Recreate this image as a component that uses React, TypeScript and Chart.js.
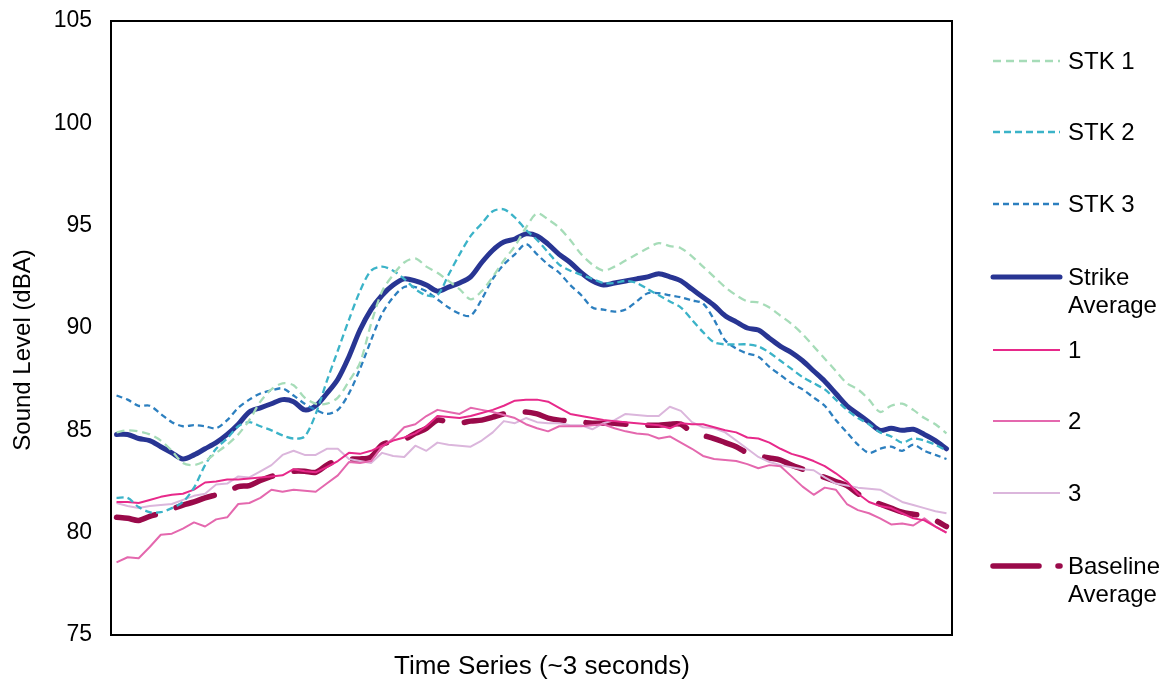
import React, { useEffect, useRef } from "react";
import { Chart, registerables } from "chart.js";

Chart.register(...registerables);

// ---- data ----
const timeSteps: string[] = Array.from({ length: 76 }, (_, i) => String(i + 1));

const stk1: number[] = [
  84.9, 85.0, 84.95, 84.8, 84.5, 84.0, 83.4, 83.3, 83.5, 83.9,
  84.3, 84.8, 85.5, 86.4, 87.0, 87.3, 87.2, 86.6, 86.3, 86.3,
  86.6, 87.4, 88.3, 90.2, 91.8, 92.6, 93.2, 93.4, 93.0, 92.7,
  92.3, 91.9, 91.4, 91.8, 92.5, 93.3, 94.0, 94.9, 95.6, 95.3,
  94.9, 94.3, 93.6, 93.1, 92.8, 93.0, 93.3, 93.6, 93.9, 94.15,
  94.0, 93.9, 93.5, 93.0, 92.5, 92.0, 91.6, 91.3, 91.25, 91.0,
  90.6, 90.2, 89.7, 89.1, 88.5, 87.9, 87.3, 87.0, 86.5, 85.9,
  86.2, 86.3, 86.0, 85.6, 85.3, 84.85,
];

const stk2: number[] = [
  81.7, 81.7, 81.25, 81.0, 81.0, 81.2, 81.5, 82.2, 83.3, 84.1,
  84.6, 85.2, 85.4, 85.2, 85.0, 84.75, 84.6, 84.7, 85.8, 87.4,
  88.9, 90.4, 91.8, 92.8, 93.0, 92.8, 92.4, 91.9, 91.6, 91.6,
  92.6, 93.6, 94.5, 95.1, 95.7, 95.8, 95.4, 94.8, 94.3, 93.7,
  93.1, 92.8, 92.6, 92.4, 92.2, 92.2, 92.3, 92.2, 91.9, 91.6,
  91.3, 91.0, 90.4, 89.8, 89.3, 89.2, 89.2, 89.2, 89.1, 88.8,
  88.4, 88.0, 87.6, 87.3, 87.0, 86.5, 86.0, 85.6, 85.3, 84.9,
  84.7, 84.4, 84.6, 84.5, 84.3, 84.0,
];

const stk3: number[] = [
  86.7, 86.5, 86.2, 86.2, 85.8, 85.4, 85.2, 85.25, 85.2, 85.1,
  85.5, 86.1, 86.5, 86.8, 86.95, 87.05, 86.7, 86.3, 86.0, 85.8,
  86.0, 86.8, 88.0, 89.4, 90.7, 91.5, 92.0, 92.0, 91.8, 91.4,
  91.0, 90.7, 90.6, 91.4, 92.4, 93.1, 93.6, 94.1, 93.6, 93.1,
  92.7, 92.1, 91.6, 91.0, 90.9, 90.8, 90.9, 91.3, 91.7, 91.7,
  91.6, 91.5, 91.35, 91.2, 90.4, 89.4, 89.0, 88.75, 88.6, 88.1,
  87.7, 87.3, 87.0, 86.6, 86.2, 85.5, 84.9, 84.3, 83.9, 84.1,
  84.2, 84.0, 84.3, 84.0, 83.8, 83.6,
];

const strikeAverage: number[] = [
  84.8, 84.8, 84.6, 84.5, 84.2, 83.9, 83.6, 83.8, 84.1, 84.4,
  84.8, 85.3, 85.9, 86.1, 86.3, 86.5, 86.4, 86.0, 86.2, 86.8,
  87.5, 88.6, 89.9, 90.9, 91.6, 92.1, 92.4, 92.3, 92.1, 91.8,
  92.0, 92.2, 92.5, 93.2, 93.8, 94.2, 94.35, 94.6, 94.5, 94.1,
  93.6, 93.2, 92.7, 92.3, 92.1, 92.2, 92.3, 92.4, 92.5, 92.65,
  92.5, 92.3, 91.9, 91.5, 91.1, 90.6, 90.3, 90.0, 89.9, 89.5,
  89.1, 88.8, 88.4, 87.9, 87.4, 86.8, 86.2, 85.8, 85.4, 85.0,
  85.1, 85.0, 85.05, 84.8, 84.5, 84.1,
];

const base1: number[] = [
  81.5, 81.5, 81.45, 81.6, 81.75, 81.85, 81.9, 82.1, 82.45, 82.5,
  82.6, 82.6, 82.65, 82.7, 82.75, 82.8, 83.1, 83.0, 82.95, 83.2,
  83.5, 83.9, 83.85, 84.0, 84.25, 84.5, 84.65, 84.85, 85.2, 85.7,
  85.65, 85.6, 85.7, 85.85, 86.0, 86.2, 86.45, 86.5, 86.5, 86.4,
  86.1, 85.8, 85.7, 85.6, 85.5, 85.45, 85.4, 85.35, 85.3, 85.25,
  85.1, 85.35, 85.3, 85.3, 85.15, 85.0, 84.9, 84.65, 84.6, 84.4,
  84.1, 83.85, 83.7, 83.5, 83.25, 82.9, 82.5, 81.9, 81.5, 81.3,
  81.2, 80.95, 80.7, 80.6, 80.3, 80.0,
];

const base2: number[] = [
  78.55, 78.8, 78.75, 79.3, 79.9, 79.95, 80.2, 80.5, 80.3, 80.65,
  80.75, 81.4, 81.45, 81.7, 82.1, 82.0, 82.1, 82.05, 82.0, 82.4,
  82.8, 83.45, 83.4, 83.5, 84.2, 84.6, 85.15, 85.3, 85.7, 86.0,
  85.9, 85.8, 86.1, 86.0, 85.9, 85.75, 85.6, 85.3, 85.1, 84.95,
  85.2, 85.2, 85.2, 85.25, 85.3, 85.1, 84.95, 84.85, 84.8, 84.6,
  84.7, 84.4, 84.1, 83.75, 83.6, 83.55, 83.5, 83.35, 83.15, 83.3,
  83.25, 82.75, 82.25, 81.85, 82.2, 82.1, 81.4, 81.1, 80.95, 80.7,
  80.4, 80.45, 80.35, 80.7, 80.3, 80.0,
];

const base3: number[] = [
  81.45, 81.3, 81.2, 81.3, 81.35, 81.4, 81.6, 81.8, 81.9, 82.35,
  82.4, 82.75, 82.7, 83.0, 83.3, 83.8, 84.0, 83.8, 83.8, 84.1,
  84.1, 83.6, 83.5, 83.4, 83.9, 83.75, 83.7, 84.25, 84.0, 84.4,
  84.3, 84.25, 84.2, 84.5, 84.9, 85.45, 85.35, 85.6, 85.4, 85.35,
  85.35, 85.25, 85.25, 85.05, 85.35, 85.5, 85.8, 85.75, 85.7, 85.7,
  86.15, 85.95, 85.4, 85.15, 85.1, 84.9, 84.5, 84.1, 83.7, 83.45,
  83.3, 83.2, 83.1, 83.05, 82.7, 82.4, 82.3, 82.2, 82.15, 82.1,
  81.8, 81.5, 81.35, 81.2, 81.05, 80.95,
];

const baselineAverage: number[] = [
  80.75, 80.7, 80.6, 80.8, 80.95, 81.15, 81.35, 81.5, 81.7, 81.85,
  82.0, 82.25, 82.3, 82.55, 82.75, 82.9, 83.0, 83.0, 82.95, 83.3,
  83.55, 83.6, 83.6, 83.7, 84.3, 84.45, 84.55, 84.85, 85.1, 85.5,
  85.4, 85.35, 85.45, 85.5, 85.65, 85.8, 85.85, 85.9, 85.8, 85.6,
  85.5, 85.45, 85.4, 85.35, 85.35, 85.35, 85.3, 85.3, 85.25, 85.25,
  85.3, 85.3, 84.9, 84.75, 84.6, 84.4, 84.2, 83.9, 83.75, 83.65,
  83.55, 83.3, 83.1, 82.9, 82.7, 82.5, 82.3, 81.9, 81.6, 81.4,
  81.2, 81.0, 80.9, 80.8, 80.6, 80.3,
];

const yMin = 75;
const yMax = 105;
const yStep = 5;

const xTitle = "Time Series (~3 seconds)";
const yTitle = "Sound Level (dBA)";

const FONT = "Arial, 'Liberation Sans', sans-serif";

type SeriesStyle = {
  label: string[];
  data: number[];
  color: string;
  width: number;
  dash: number[];
  tension: number;
  cap: CanvasLineCap;
};

const series: SeriesStyle[] = [
  { label: ["STK 1"], data: stk1, color: "#a6dcb8", width: 2.3, dash: [8, 5], tension: 0.3, cap: "butt" },
  { label: ["STK 2"], data: stk2, color: "#3bb3c8", width: 2.3, dash: [7, 4], tension: 0.3, cap: "butt" },
  { label: ["STK 3"], data: stk3, color: "#2c7fbf", width: 2.3, dash: [6, 4], tension: 0.3, cap: "butt" },
  { label: ["Strike", "Average"], data: strikeAverage, color: "#283593", width: 5, dash: [], tension: 0.3, cap: "round" },
  { label: ["1"], data: base1, color: "#e7298a", width: 2, dash: [], tension: 0, cap: "butt" },
  { label: ["2"], data: base2, color: "#e468ae", width: 2, dash: [], tension: 0, cap: "butt" },
  { label: ["3"], data: base3, color: "#dbb6dc", width: 2, dash: [], tension: 0, cap: "butt" },
  { label: ["Baseline", "Average"], data: baselineAverage, color: "#9a0a4a", width: 5.5, dash: [40, 22], tension: 0.3, cap: "round" },
];

const legendY = [61, 132, 204, 277, 350, 421, 493, 566];

const frameLegendTitles = {
  id: "frameLegendTitles",
  afterDraw(chart: any) {
    const ctx = chart.ctx as CanvasRenderingContext2D;
    const a = chart.chartArea;
    ctx.save();
    ctx.strokeStyle = "#000";
    ctx.lineWidth = 2;
    ctx.setLineDash([]);
    ctx.strokeRect(a.left, a.top, a.right - a.left, a.bottom - a.top);

    // axis titles
    ctx.fillStyle = "#000";
    ctx.textAlign = "center";
    ctx.textBaseline = "middle";
    ctx.font = `26px ${FONT}`;
    ctx.fillText(xTitle, 542, 667);
    ctx.save();
    ctx.translate(23, 350);
    ctx.rotate(-Math.PI / 2);
    ctx.font = `24px ${FONT}`;
    ctx.fillText(yTitle, 0, 0);
    ctx.restore();

    // legend
    ctx.font = `24px ${FONT}`;
    ctx.textBaseline = "middle";
    ctx.textAlign = "left";
    series.forEach((s, i) => {
      const y = legendY[i];
      ctx.beginPath();
      ctx.strokeStyle = s.color;
      ctx.lineWidth = s.width;
      ctx.lineCap = s.cap;
      if (s.label[0] === "Baseline") {
        ctx.setLineDash([46, 19]);
      } else {
        ctx.setLineDash(s.dash);
      }
      ctx.moveTo(993, y);
      ctx.lineTo(1060, y);
      ctx.stroke();
      s.label.forEach((t, k) => {
        ctx.fillText(t, 1068, y + 1 + k * 28);
      });
    });
    ctx.restore();
  },
};

export default function App() {
  const ref = useRef<HTMLCanvasElement | null>(null);

  useEffect(() => {
    if (!ref.current) return;
    const chart = new Chart(ref.current, {
      type: "line",
      data: {
        labels: timeSteps,
        datasets: series.map((s) => ({
          label: s.label.join(" "),
          data: s.data,
          borderColor: s.color,
          backgroundColor: s.color,
          borderWidth: s.width,
          borderDash: s.dash,
          borderCapStyle: s.cap,
          borderJoinStyle: "round" as const,
          tension: s.tension,
          pointRadius: 0,
          fill: false,
        })),
      },
      options: {
        animation: false,
        responsive: false,
        maintainAspectRatio: false,
        layout: { padding: { top: 0, right: 214, left: 0, bottom: 0 } },
        plugins: { legend: { display: false }, tooltip: { enabled: false } },
        scales: {
          x: {
            type: "category",
            offset: true,
            grid: { display: false, drawTicks: false },
            border: { display: false },
            ticks: { display: false },
            afterFit(scale: any) {
              scale.height = 47;
              scale.paddingLeft = 0;
              scale.paddingRight = 0;
            },
          },
          y: {
            min: yMin,
            max: yMax,
            grid: { display: false, drawTicks: false },
            border: { display: false },
            ticks: {
              stepSize: yStep,
              color: "#000",
              padding: 19,
              font: { family: FONT, size: 23 },
            },
            afterFit(scale: any) {
              scale.width = 111;
              scale.paddingTop = 21;
              scale.paddingBottom = 0;
            },
          },
        },
      },
      plugins: [frameLegendTitles],
    });
    return () => chart.destroy();
  }, []);

  return (
    <div style={{ position: "fixed", left: 0, top: 0, width: 1166, height: 682, background: "#fff" }}>
      <canvas ref={ref} width={1166} height={682} style={{ display: "block" }} />
    </div>
  );
}
